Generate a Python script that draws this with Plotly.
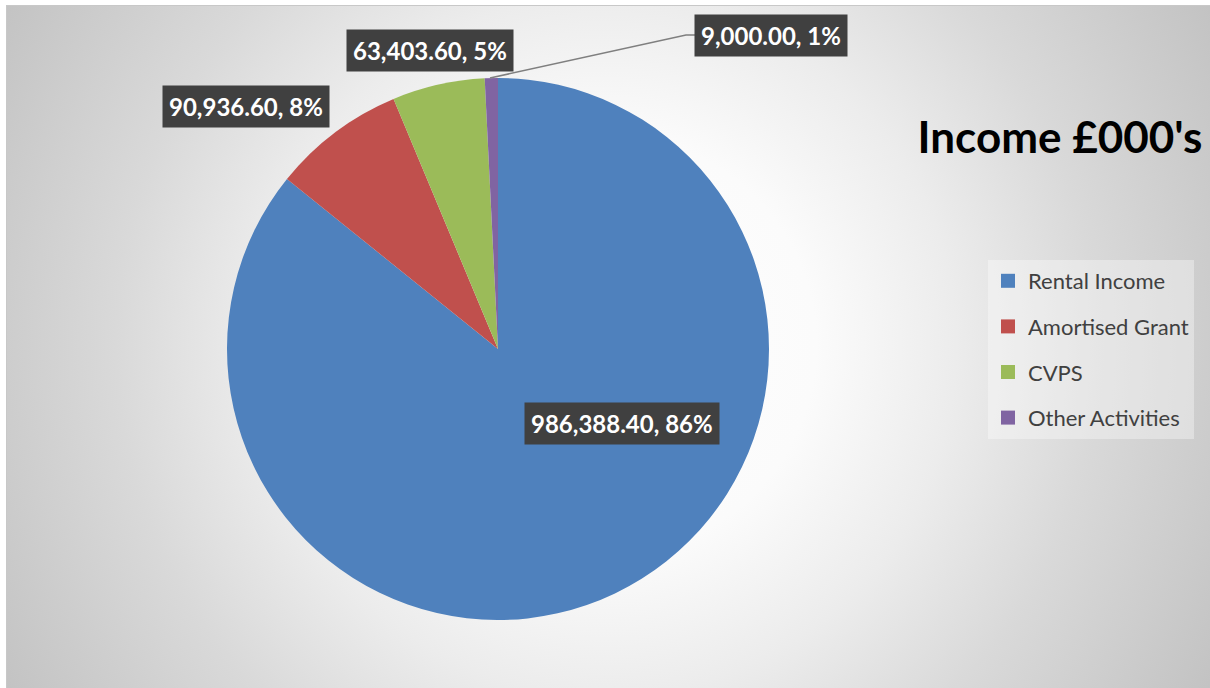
import base64
import plotly.graph_objects as go

# ---- data ----
categories = ["Rental Income", "Amortised Grant", "CVPS", "Other Activities"]
values = [986388.40, 90936.60, 63403.60, 9000.00]
pct_labels = ["86%", "8%", "5%", "1%"]
colors = ["#4F81BD", "#C0504D", "#9BBB59", "#8064A2"]
title_text = "Income £000's"

W, H = 1210, 688

def px(x):
    return x / W

def py(y):
    return 1 - y / H

# background radial gradient (style only)
svg = f'''<svg xmlns="http://www.w3.org/2000/svg" width="1204" height="683" viewBox="0 0 1204 683">
<defs><radialGradient id="g" gradientUnits="userSpaceOnUse" cx="600" cy="340" r="700">
<stop offset="0" stop-color="#ffffff"/><stop offset="0.3" stop-color="#fbfbfb"/>
<stop offset="0.5" stop-color="#ececec"/><stop offset="0.7" stop-color="#d9d9d9"/>
<stop offset="1" stop-color="#c2c2c2"/></radialGradient></defs>
<rect x="0" y="0" width="1204" height="683" fill="url(#g)"/>
<line x1="0.5" y1="0" x2="0.5" y2="683" stroke="#c8c8c8" stroke-width="1"/>
<line x1="0" y1="0.5" x2="1204" y2="0.5" stroke="#c8c8c8" stroke-width="1"/>
</svg>'''
bg_uri = "data:image/svg+xml;base64," + base64.b64encode(svg.encode()).decode()

fig = go.Figure()

cx, cy, r = 498, 349, 271
fig.add_trace(go.Pie(
    labels=categories,
    values=values,
    marker=dict(colors=colors, line=dict(width=0)),
    sort=False,
    direction="clockwise",
    rotation=0,
    textinfo="none",
    hoverinfo="label+value+percent",
    showlegend=False,
    domain=dict(x=[px(cx - r), px(cx + r)], y=[py(cy + r), py(cy - r)]),
))

# legend entries (one per category)
for i, (c, col) in enumerate(zip(categories, colors)):
    fig.add_trace(go.Scatter(
        x=[None], y=[None], mode="markers", name=c,
        marker=dict(symbol="square", size=14, color=col),
        legendgroup=f"g{i}", showlegend=True, hoverinfo="skip",
    ))

# data label annotations
label_pos = [(622, 423), (246, 107), (430, 50), (771, 36)]
for v, p, (lx, ly) in zip(values, pct_labels, label_pos):
    fig.add_annotation(
        x=px(lx), y=py(ly), xref="paper", yref="paper",
        text=f"<b>{v:,.2f}, {p}</b>", showarrow=False,
        font=dict(family="Lato", size=24, color="white"),
        bgcolor="#404040", borderpad=6, xanchor="center", yanchor="middle",
    )

# leader line for the small slice
fig.add_shape(
    type="path", xref="paper", yref="paper",
    path=f"M {px(490)},{py(78)} L {px(686)},{py(35)} L {px(697)},{py(35)}",
    line=dict(color="#7f7f7f", width=1.5),
)

fig.update_layout(
    width=W, height=H,
    margin=dict(l=0, r=0, t=0, b=0),
    paper_bgcolor="white",
    plot_bgcolor="rgba(0,0,0,0)",
    xaxis=dict(visible=False),
    yaxis=dict(visible=False),
    title=dict(text=f"<b>{title_text}</b>", x=px(1060), y=py(138),
               xanchor="center", yanchor="middle", xref="paper", yref="paper",
               font=dict(family="Lato", size=44, color="black")),
    legend=dict(x=px(988), y=py(260), xanchor="left", yanchor="top",
                bgcolor="rgba(255,255,255,0.35)", tracegroupgap=14,
                font=dict(family="Lato", size=22, color="#404040"),
                itemclick=False, itemdoubleclick=False),
    images=[dict(source=bg_uri, xref="paper", yref="paper",
                 x=px(6), y=py(5), sizex=px(1204), sizey=683 / H,
                 xanchor="left", yanchor="top", sizing="stretch", layer="below")],
)

fig.write_html("out.html")
